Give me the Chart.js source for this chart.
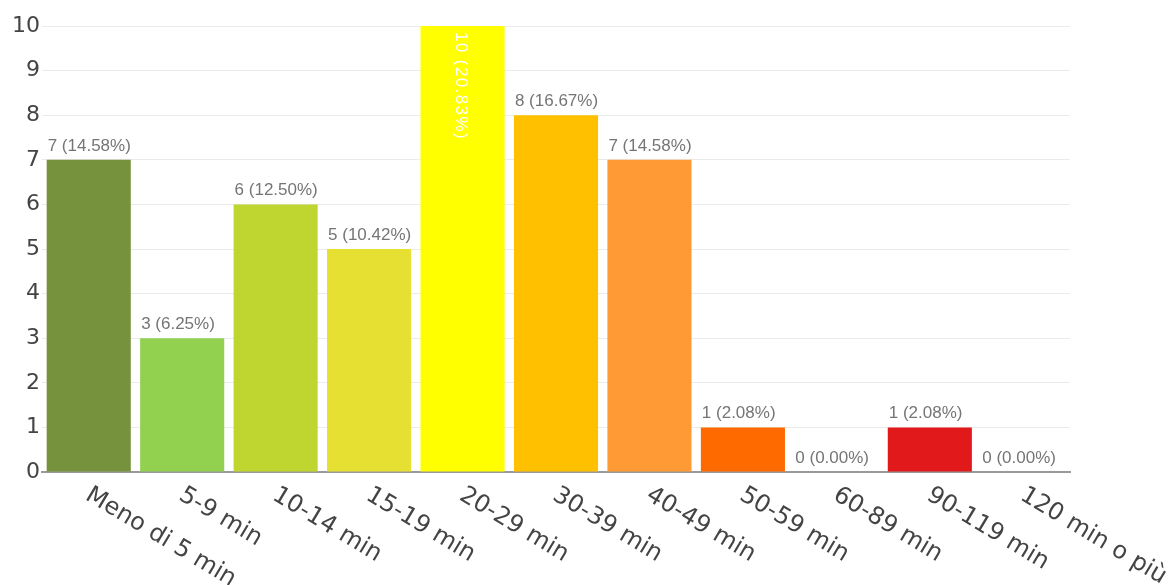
<!DOCTYPE html>
<html lang="it">
<head>
<meta charset="UTF-8">
<title>Tempo impiegato</title>
<script src="https://cdn.jsdelivr.net/npm/chart.js@4.4.0/dist/chart.umd.min.js"></script>
<style>
    html, body {
        margin: 0;
        padding: 0;
        background: #fff;
    }
    #wrap {
        position: relative;
        width: 1176px;
        height: 585px;
    }
</style>
</head>
<body>
<div id="wrap"><canvas id="chart"></canvas></div>
<script>
    const categories = ['Meno di 5 min', '5-9 min', '10-14 min', '15-19 min', '20-29 min', '30-39 min',
        '40-49 min', '50-59 min', '60-89 min', '90-119 min', '120 min o più'];
    const counts = [7, 3, 6, 5, 10, 8, 7, 1, 0, 1, 0];
    const yTickValues = [0, 1, 2, 3, 4, 5, 6, 7, 8, 9, 10];
    const barColors = ['#76923c', '#92d050', '#bfd630', '#e5e032', '#ffff00', '#ffc000',
        '#ff9a35', '#ff6a00', '#cccccc', '#e2191b', '#cccccc'];

    const total = counts.reduce((a, b) => a + b, 0);

    // value labels above the bars + slanted category labels
    const labelsPlugin = {
        id: 'barLabels',
        afterDatasetsDraw(chart) {
            const ctx = chart.ctx;
            const area = chart.chartArea;
            const meta = chart.getDatasetMeta(0);
            ctx.save();
            ctx.font = '17px "Liberation Sans", Arial, sans-serif';
            meta.data.forEach((bar, i) => {
                const txt = counts[i] + ' (' + (counts[i] / total * 100).toFixed(2) + '%)';
                const left = bar.x - bar.width / 2;
                if (bar.y - 24 < area.top) {
                    // no room above: write it down the inside of the bar
                    ctx.save();
                    ctx.translate(bar.x - 2, bar.y + 6);
                    ctx.rotate(Math.PI / 2);
                    ctx.fillStyle = '#ffffff';
                    ctx.textAlign = 'left';
                    ctx.textBaseline = 'middle';
                    ctx.letterSpacing = '1.4px';
                    ctx.fillText(txt, 0, 0);
                    ctx.restore();
                } else {
                    ctx.fillStyle = '#757575';
                    ctx.textAlign = 'left';
                    ctx.textBaseline = 'alphabetic';
                    ctx.fillText(txt, left + 1, bar.y - 9);
                }
            });
            ctx.restore();
        },
        afterDraw(chart) {
            const ctx = chart.ctx;
            const x = chart.scales.x;
            ctx.save();
            ctx.font = '24px "DejaVu Sans", Verdana, sans-serif';
            ctx.fillStyle = '#444444';
            ctx.textAlign = 'left';
            ctx.textBaseline = 'top';
            categories.forEach((label, i) => {
                ctx.save();
                ctx.translate(x.getPixelForValue(i) + 5, chart.chartArea.bottom + 11);
                ctx.rotate(31 * Math.PI / 180);
                ctx.fillText(label, 0, 0);
                ctx.restore();
            });
            ctx.restore();
        }
    };

    const chart = new Chart(document.getElementById('chart'), {
        type: 'bar',
        data: {
            labels: categories,
            datasets: [{
                data: counts,
                backgroundColor: barColors,
                borderWidth: 0,
                barPercentage: 0.9,
                categoryPercentage: 1.0
            }]
        },
        options: {
            responsive: true,
            maintainAspectRatio: false,
            animation: false,
            layout: {
                padding: { top: 26, right: 106, left: 0, bottom: 0 }
            },
            plugins: {
                legend: { display: false },
                tooltip: { enabled: false }
            },
            scales: {
                x: {
                    grid: { display: false },
                    border: { display: true, color: '#9a9a9a', width: 2 },
                    ticks: { display: false },
                    afterFit(scale) { scale.height = 113; }
                },
                y: {
                    min: 0,
                    max: 10,
                    afterBuildTicks(scale) {
                        scale.ticks = yTickValues.map(v => ({ value: v }));
                    },
                    border: { display: false },
                    grid: { color: '#ebebeb', lineWidth: 1, drawTicks: false },
                    ticks: {
                        padding: 2,
                        color: '#444444',
                        font: { size: 22, family: '"DejaVu Sans", Verdana, sans-serif' }
                    },
                    afterFit(scale) { scale.width = 42; }
                }
            }
        },
        plugins: [labelsPlugin]
    });
</script>
</body>
</html>
